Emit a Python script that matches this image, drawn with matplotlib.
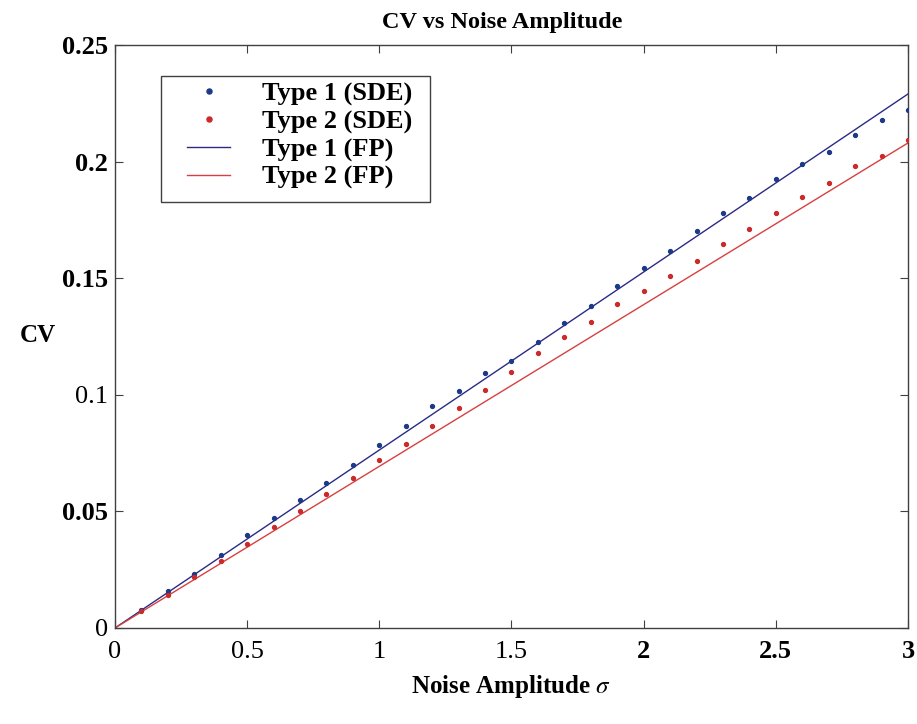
import matplotlib
matplotlib.use("Agg")
import matplotlib.pyplot as plt
from matplotlib.patches import Rectangle

plt.rcParams['font.family'] = ['Liberation Serif', 'DejaVu Serif']
plt.rcParams['mathtext.fontset'] = 'stix'

sigma = [0.1, 0.2, 0.3, 0.4, 0.5, 0.6, 0.7, 0.8, 0.9, 1.0,
         1.1, 1.2, 1.3, 1.4, 1.5, 1.6, 1.7, 1.8, 1.9, 2.0,
         2.1, 2.2, 2.3, 2.4, 2.5, 2.6, 2.7, 2.8, 2.9, 3.0]
type1_sde = [0.0077, 0.0157, 0.0233, 0.0312, 0.0398, 0.0473, 0.0550, 0.0621, 0.0701, 0.0786,
             0.0868, 0.0951, 0.1015, 0.1095, 0.1147, 0.1227, 0.1310, 0.1381, 0.1467, 0.1543,
             0.1616, 0.1701, 0.1780, 0.1843, 0.1927, 0.1990, 0.2042, 0.2113, 0.2179, 0.2223]
type2_sde = [0.0074, 0.0143, 0.0218, 0.0287, 0.0359, 0.0432, 0.0503, 0.0574, 0.0644, 0.0719,
             0.0788, 0.0865, 0.0944, 0.1020, 0.1097, 0.1178, 0.1247, 0.1313, 0.1389, 0.1447,
             0.1511, 0.1574, 0.1646, 0.1711, 0.1780, 0.1849, 0.1910, 0.1979, 0.2023, 0.2092]
fp_sigma = [0.0, 3.0]
type1_fp = [0.0, 0.2290]
type2_fp = [0.0, 0.2080]

xticks = [0, 0.5, 1, 1.5, 2, 2.5, 3]
xticklabels = ['0', '0.5', '1', '1.5', '2', '2.5', '3']
xtick_bold = [False, False, False, False, True, True, True]
yticks = [0, 0.05, 0.1, 0.15, 0.2, 0.25]
yticklabels = ['0', '0.05', '0.1', '0.15', '0.2', '0.25']
ytick_bold = [False, True, False, True, True, True]

fig = plt.figure(figsize=(9.17, 7.24), dpi=100)
ax = fig.add_axes([115/917, 1 - 628/724, (908 - 115)/917, (628 - 45)/724])

ax.plot(sigma, type1_sde, linestyle='none', marker='o', ms=2.8,
        color='#1c3a86', label='Type 1 (SDE)', zorder=3)
ax.plot(sigma, type2_sde, linestyle='none', marker='o', ms=2.8,
        color='#cc2a2a', label='Type 2 (SDE)', zorder=3)
ax.plot(fp_sigma, type1_fp, color='#2a2a88', lw=1.0, label='Type 1 (FP)')
ax.plot(fp_sigma, type2_fp, color='#d84040', lw=1.0, label='Type 2 (FP)')

ax.set_xlim(0, 3)
ax.set_ylim(0, 0.25)
ax.set_xticks(xticks)
ax.set_xticklabels(xticklabels)
ax.set_yticks(yticks)
ax.set_yticklabels(yticklabels)
ax.tick_params(direction='in', length=6, width=0.8, top=True, right=True,
               labelsize=19, colors='#404040', labelcolor='black')
ax.tick_params(axis='x', pad=9)
ax.tick_params(axis='y', pad=5)
for lab, b in zip(ax.get_xticklabels(), xtick_bold):
    lab.set_fontweight('bold' if b else 'normal')
for lab, b in zip(ax.get_yticklabels(), ytick_bold):
    lab.set_fontweight('bold' if b else 'normal')
for s in ax.spines.values():
    s.set_linewidth(1.0)
    s.set_color('#404040')

ax.set_title('CV vs Noise Amplitude', fontsize=17.5, fontweight='bold', pad=12,
             x=(502.5 - 115) / 793)
ax.set_xlabel(r'Noise Amplitude $\sigma$', fontsize=18, fontweight='bold', va='center')
ax.xaxis.set_label_coords(0.5, (628 - 686) / 583)
ax.set_ylabel('CV', fontsize=18, fontweight='bold', rotation=0, va='center', ha='center')
ax.yaxis.set_label_coords((38 - 115) / 793, (628 - 335) / 583)

# legend frame
ax.add_patch(Rectangle(((161 - 115) / 793, (628 - 202) / 583), (430 - 161) / 793,
                       (202 - 76) / 583, transform=ax.transAxes, facecolor='white',
                       edgecolor='#404040', lw=1.0, zorder=4))
leg = ax.legend(loc='upper left', bbox_to_anchor=((187 - 115) / 793, (628 - 82) / 583),
                fontsize=19, frameon=False, handlelength=1.63, handletextpad=1.2,
                borderpad=0, labelspacing=0.15, borderaxespad=0, markerscale=1.3)
leg.set_zorder(5)
for t in leg.get_texts():
    t.set_fontweight('bold')

fig.savefig('out.png', dpi=100)
